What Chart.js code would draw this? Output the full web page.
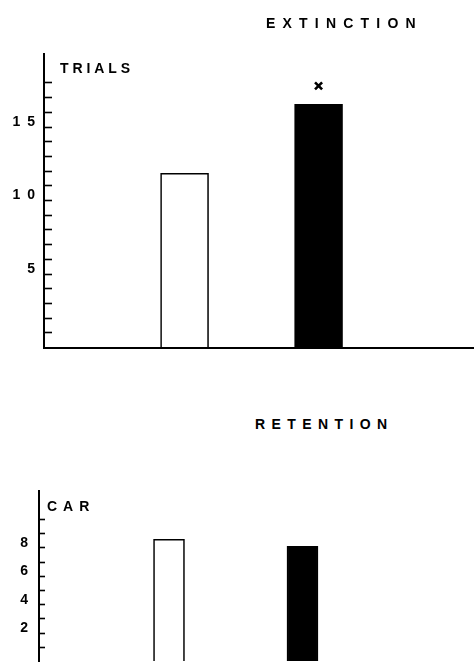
<!DOCTYPE html>
<html>
<head>
<meta charset="utf-8">
<script src="https://cdn.jsdelivr.net/npm/chart.js@4/dist/chart.umd.min.js"></script>
<style>
  html, body { margin:0; padding:0; background:#fff; width:474px; height:669px; overflow:hidden; }
  .wrap { position:absolute; left:0; width:474px; }
  .txt { position:absolute; font-family:"Liberation Sans", Arial, sans-serif; font-weight:bold; font-size:14px; line-height:14px; color:#000; white-space:nowrap; }
</style>
</head>
<body>
<div class="wrap" style="top:0;height:370px;"><canvas id="c1" width="474" height="370"></canvas></div>
<div class="wrap" style="top:470px;height:210px;"><canvas id="c2" width="474" height="210"></canvas></div>
<div class="txt" id="t1" style="left:266px;top:16px;letter-spacing:7.2px;">EXTINCTION</div>
<div class="txt" id="a1" style="left:60px;top:61px;letter-spacing:3.9px;">TRIALS</div>
<div class="txt" id="t2" style="left:255px;top:417px;letter-spacing:6.4px;">RETENTION</div>
<div class="txt" id="a2" style="left:47px;top:499px;letter-spacing:6px;">CAR</div>
<script>
// ---- data ----
const groups = ['Group 1', 'Group 2'];          // bars are unlabeled in the figure
const barFills = ['#ffffff', '#000000'];
const extinctionTrials = [11.85, 16.55];
const extinctionMark = [null, 17.8];             // "x" above the black bar
const retentionCAR = [8.6, 8.1];
const extinctionTickLabels = [5, 10, 15];
const extinctionMinorTicks = 18;                  // minor ticks 1..18
const extinctionAxisMax = 20;
const retentionTickLabels = [2, 4, 6, 8];
const retentionMinorTicks = 10;                   // minor ticks 1..10
const retentionAxisMax = 12;

const spacingPlugin = {
  id: 'letterSpace',
  beforeDraw(chart, args, opts) { chart.ctx.letterSpacing = (opts.px || 0) + 'px'; },
  afterDraw(chart) { chart.ctx.letterSpacing = '0px'; }
};

function makeChart(id, values, mark, tickLabels, minorMax, axisMax, cfg) {
  const datasets = [{
    type: 'bar',
    data: values.map((v, i) => ({ x: i, y: v })),
    backgroundColor: barFills,
    borderColor: '#000',
    borderWidth: 1.6,
    borderSkipped: 'start',
    barThickness: cfg.barThickness
  }];
  if (mark) {
    datasets.push({
      type: 'scatter',
      data: mark.map((v, i) => v == null ? null : ({ x: i, y: v })).filter(d => d),
      pointStyle: 'crossRot',
      radius: 5,
      borderWidth: 2.6,
      borderColor: '#000',
      backgroundColor: '#000'
    });
  }
  return new Chart(document.getElementById(id), {
    type: 'bar',
    data: { labels: groups, datasets },
    plugins: [spacingPlugin],
    options: {
      responsive: false,
      animation: false,
      devicePixelRatio: 1,
      layout: { padding: cfg.padding, autoPadding: false },
      plugins: { legend: { display: false }, tooltip: { enabled: false }, title: { display: false },
                 letterSpace: { px: 7 } },
      scales: {
        x: {
          type: 'linear',
          offset: false,
          min: cfg.xMin, max: cfg.xMax,
          grid: { display: false, offset: false },
          ticks: { display: false },
          border: { display: cfg.showBase, color: '#000', width: 2 },
          afterFit: s => { s.height = 0; }
        },
        y: {
          min: 0, max: axisMax,
          afterFit: s => { s.width = cfg.axisX; },
          border: { display: true, color: '#000', width: 2 },
          grid: {
            display: true,
            drawOnChartArea: false,
            drawTicks: true,
            tickLength: -cfg.tickLen,
            tickWidth: 1.6,
            tickColor: ctx => (ctx.tick && ctx.tick.value >= 1 && ctx.tick.value <= minorMax) ? '#000' : 'rgba(0,0,0,0)'
          },
          ticks: {
            stepSize: 1,
            autoSkip: false,
            padding: cfg.labelPad,
            labelOffset: -5,
            color: '#000',
            font: { family: '"Liberation Sans", Arial, sans-serif', size: 14, weight: 'bold' },
            callback: v => tickLabels.includes(v) ? String(v) : ''
          }
        }
      }
    }
  });
}

makeChart('c1', extinctionTrials, extinctionMark, extinctionTickLabels, extinctionMinorTicks, extinctionAxisMax, {
  padding: { top: 53.5, bottom: 22.5, left: 0, right: 0 },
  axisX: 44, tickLen: 8, labelPad: 10, barThickness: 48,
  xMin: -1.049, xMax: 2.16, showBase: true
});
makeChart('c2', retentionCAR, null, retentionTickLabels, retentionMinorTicks, retentionAxisMax, {
  padding: { top: 21, bottom: 11.7, left: 0, right: 0 },
  axisX: 39, tickLen: 6, labelPad: 10, barThickness: 31,
  xMin: -0.974, xMax: 2.285, showBase: false
});
</script>
</body>
</html>
